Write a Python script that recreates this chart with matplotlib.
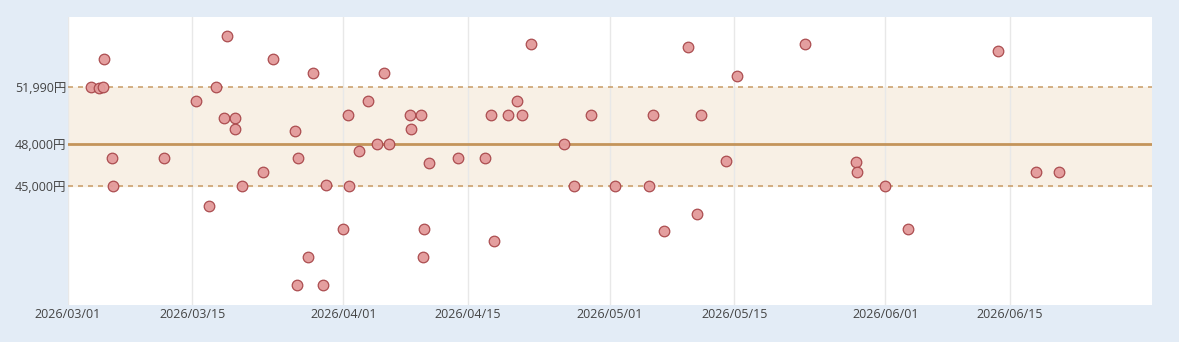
import matplotlib
matplotlib.use("Agg")
import matplotlib.pyplot as plt
import matplotlib.dates as mdates
import matplotlib.ticker as mticker
import pandas as pd

plt.rcParams['font.family'] = ['Open Sans', 'Noto Sans CJK JP', 'DejaVu Sans']

# price observations (date, yen)
dates = [
    "2026-03-03 14:00", "2026-03-04 12:00", "2026-03-04 22:00", "2026-03-05 02:00",
    "2026-03-05 23:00", "2026-03-06 01:00", "2026-03-11 18:00", "2026-03-15 10:00",
    "2026-03-16 22:00", "2026-03-17 16:00", "2026-03-18 14:00", "2026-03-18 21:00",
    "2026-03-19 19:00", "2026-03-19 19:00", "2026-03-20 13:00", "2026-03-22 22:00",
    "2026-03-24 00:30", "2026-03-26 14:00", "2026-03-26 20:00", "2026-03-26 17:30",
    "2026-03-28 01:00", "2026-03-28 14:00", "2026-03-29 17:30", "2026-03-30 00:00",
    "2026-03-31 22:00", "2026-04-01 13:00", "2026-04-01 16:00", "2026-04-02 17:00",
    "2026-04-03 19:00", "2026-04-04 19:00", "2026-04-05 14:00", "2026-04-06 02:00",
    "2026-04-08 11:00", "2026-04-08 15:30", "2026-04-09 17:00", "2026-04-10 15:00",
    "2026-04-10 02:00", "2026-04-09 23:00", "2026-04-13 22:00", "2026-04-16 22:00",
    "2026-04-17 14:00", "2026-04-18 00:00", "2026-04-19 12:00", "2026-04-20 14:00",
    "2026-04-21 01:00", "2026-04-22 01:30", "2026-04-25 19:00", "2026-04-26 22:00",
    "2026-04-28 20:00", "2026-05-01 14:00", "2026-05-05 10:00", "2026-05-05 19:00",
    "2026-05-07 01:00", "2026-05-09 19:00", "2026-05-10 19:00", "2026-05-11 05:00",
    "2026-05-14 02:00", "2026-05-15 07:00", "2026-05-22 22:00", "2026-05-28 17:00",
    "2026-05-28 18:00", "2026-05-31 23:00", "2026-06-03 14:00", "2026-06-13 17:00",
    "2026-06-17 23:00", "2026-06-20 14:00",
]
prices = [
    51990, 51900, 51990, 54000,
    47000, 45000, 47000, 51000,
    43600, 51990, 49800, 55560,
    49800, 49000, 45000, 46000,
    54000, 48900, 47000, 38000,
    40000, 53000, 38000, 45100,
    42000, 50000, 45000, 47500,
    51000, 48000, 53000, 48000,
    50000, 49000, 50000, 46600,
    42000, 40000, 47000, 47000,
    50000, 41100, 50000, 51000,
    50000, 55000, 48000, 45000,
    50000, 45000, 45000, 50000,
    41800, 54800, 43000, 50000,
    46800, 52800, 55000, 46700,
    46000, 45000, 42000, 54500,
    46000, 46000,
]

band_low = 45000
band_mid = 48000
band_high = 51990
ytick_vals = [45000, 48000, 51990]
xtick_dates = ["2026-03-01", "2026-03-15", "2026-04-01", "2026-04-15",
               "2026-05-01", "2026-05-15", "2026-06-01", "2026-06-15"]

x = pd.to_datetime(dates)
bg = "#e3ecf6"
line_col = "#c4945a"

fig = plt.figure(figsize=(11.79, 3.42), dpi=100, facecolor=bg)
ax = fig.add_axes([68 / 1179, 37 / 342, (1152 - 68) / 1179, (305 - 17) / 342])
ax.set_facecolor("white")

ax.axhspan(band_low, band_high, color="#f8f0e5", zorder=0)
ax.axhline(band_mid, color=line_col, lw=2, zorder=1)
ax.axhline(band_low, color=line_col, lw=1.2, ls=(0, (3, 3)), alpha=0.85, zorder=1)
ax.axhline(band_high, color=line_col, lw=1.2, ls=(0, (3, 3)), alpha=0.85, zorder=1)

ax.scatter(x, prices, s=58, facecolor="#e39a9a", edgecolor="#a8474a",
           linewidth=0.9, alpha=0.95, zorder=3)

ax.set_xlim(pd.Timestamp("2026-03-01"), pd.Timestamp("2026-07-01"))
ax.set_ylim(36600, 56930)

ax.set_xticks(pd.to_datetime(xtick_dates))
ax.xaxis.set_major_formatter(mdates.DateFormatter("%Y/%m/%d"))
ax.set_yticks(ytick_vals)
ax.yaxis.set_major_formatter(mticker.FuncFormatter(lambda v, p: f"{int(v):,}円"))

ax.grid(axis="x", color="#e8e8e8", lw=1, zorder=0)
ax.set_axisbelow(True)
for s in ax.spines.values():
    s.set_visible(False)
ax.tick_params(length=0, labelsize=9, colors="#444444")
ax.tick_params(axis="x", pad=2)
ax.tick_params(axis="y", pad=1)

fig.savefig("out.png", dpi=100, facecolor=bg)
